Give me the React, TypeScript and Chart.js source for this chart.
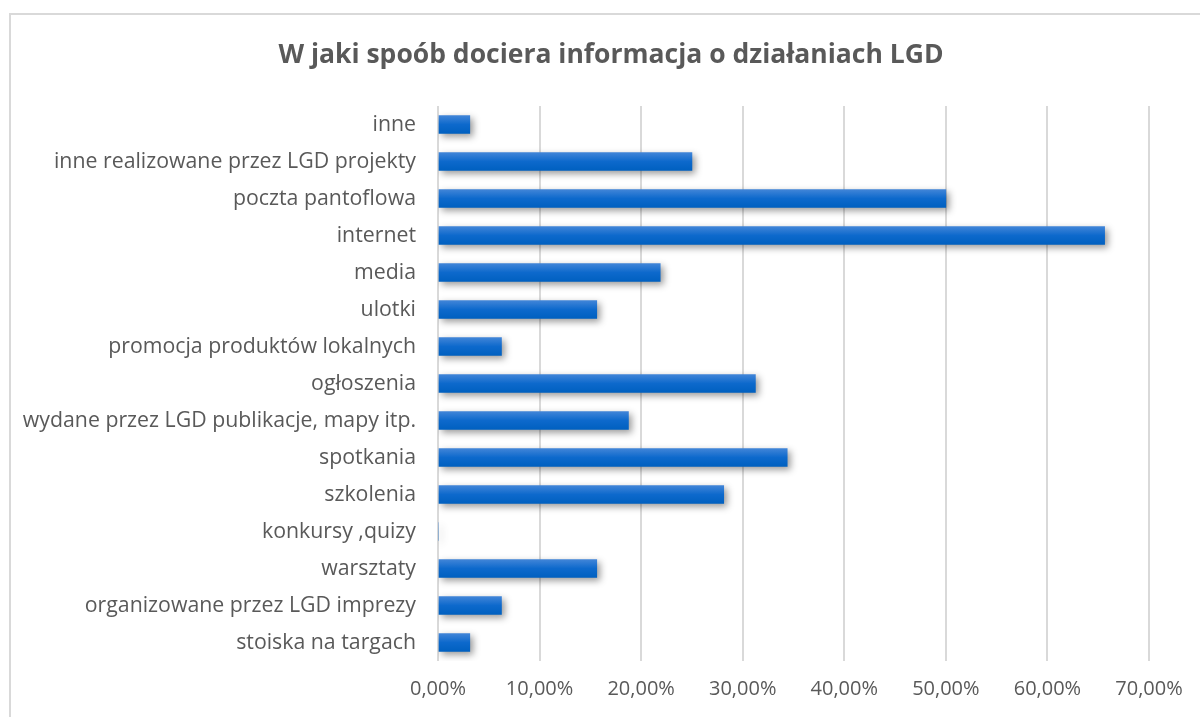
import React, { useEffect, useRef } from "react";
import { Chart, registerables } from "chart.js";

Chart.register(...registerables);

const titleText = "W jaki spoób dociera informacja o działaniach LGD";

const categories = [
  "inne",
  "inne realizowane przez LGD projekty",
  "poczta pantoflowa",
  "internet",
  "media",
  "ulotki",
  "promocja produktów lokalnych",
  "ogłoszenia",
  "wydane przez LGD publikacje, mapy itp.",
  "spotkania",
  "szkolenia",
  "konkursy ,quizy",
  "warsztaty",
  "organizowane przez LGD imprezy",
  "stoiska na targach",
];

const values = [
  3.13, 25.0, 50.0, 65.63, 21.88, 15.63, 6.25, 31.25, 18.75, 34.38, 28.13, 0, 15.63, 6.25, 3.13,
];

const xMin = 0;
const xMax = 70;
const xStep = 10;

const FONT = "'Open Sans', 'Noto Sans', sans-serif";

const frameTitleShadow = {
  id: "frameTitleShadow",
  beforeDraw(chart: any) {
    const c = chart.ctx;
    c.save();
    c.fillStyle = "#ffffff";
    c.fillRect(0, 0, chart.width, chart.height);
    c.strokeStyle = "#d9d9d9";
    c.lineWidth = 2;
    c.strokeRect(10, 14, chart.width + 20, chart.height + 20);
    c.fillStyle = "#595959";
    c.font = `bold 26.5px ${FONT}`;
    c.textAlign = "center";
    c.textBaseline = "middle";
    c.fillText(titleText, 611, 55);
    c.restore();
  },
  beforeDatasetDraw(chart: any) {
    const c = chart.ctx;
    c.save();
    c.shadowColor = "rgba(0,0,0,0.4)";
    c.shadowBlur = 7;
    c.shadowOffsetX = 3;
    c.shadowOffsetY = 3;
  },
  afterDatasetDraw(chart: any) {
    chart.ctx.restore();
  },
};

export default function App() {
  const ref = useRef<HTMLCanvasElement | null>(null);

  useEffect(() => {
    if (!ref.current) return;
    const chart = new Chart(ref.current, {
      type: "bar",
      data: {
        labels: categories,
        datasets: [
          {
            data: values,
            backgroundColor: (ctx: any) => {
              const ch = ctx.chart;
              const ys = ch.scales && ch.scales.y;
              if (!ys || ctx.type !== "data") return "#0b66c8";
              const y = ys.getPixelForValue(ctx.dataIndex);
              if (!isFinite(y)) return "#0b66c8";
              const g = ch.ctx.createLinearGradient(0, y - 9, 0, y + 9);
              g.addColorStop(0, "#4185d8");
              g.addColorStop(0.5, "#0d69cc");
              g.addColorStop(1, "#0060c0");
              return g;
            },
            borderWidth: 0,
            barThickness: 18,
          },
        ],
      },
      plugins: [frameTitleShadow],
      options: {
        indexAxis: "y",
        animation: false,
        responsive: false,
        maintainAspectRatio: false,
        layout: { padding: { left: 0, right: 51, top: 106, bottom: 0 } },
        plugins: {
          legend: { display: false },
          tooltip: { enabled: false },
          title: { display: false },
        },
        scales: {
          x: {
            min: xMin,
            max: xMax,
            ticks: {
              stepSize: xStep,
              color: "#595959",
              font: { family: FONT, size: 20 },
              padding: 16,
              callback: (v: any) => Number(v).toFixed(2).replace(".", ",") + "%",
            },
            grid: { color: "#d9d9d9", lineWidth: 2, drawTicks: false },
            border: { display: false },
            afterFit: (s: any) => {
              s.height = 56;
            },
          },
          y: {
            ticks: {
              color: "#595959",
              font: { family: FONT, size: 21.3 },
              padding: 22,
            },
            grid: { display: false, drawTicks: false },
            border: { display: false },
            afterFit: (s: any) => {
              s.width = 438;
            },
          },
        },
      },
    } as any);
    return () => chart.destroy();
  }, []);

  return (
    <div style={{ position: "fixed", left: 0, top: 0, width: 1200, height: 717, background: "#fff" }}>
      <canvas ref={ref} width={1200} height={717} style={{ display: "block" }} />
    </div>
  );
}
